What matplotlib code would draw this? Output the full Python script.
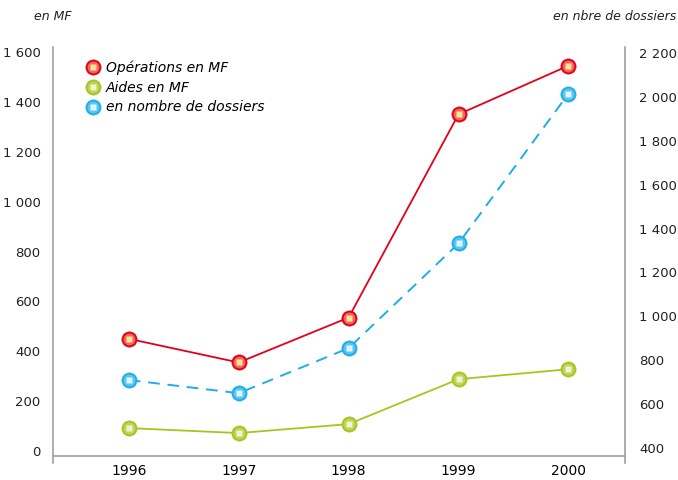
import numpy as np
import matplotlib
matplotlib.use('Agg')
import matplotlib.pyplot as plt
from matplotlib.lines import Line2D

# data
annees = ['1996', '1997', '1998', '1999', '2000']
operations_mf = [450, 355, 535, 1350, 1545]
aides_mf = [92, 72, 108, 288, 328]
nb_dossiers = [710, 650, 855, 1332, 2014]

left_ticks = [0, 200, 400, 600, 800, 1000, 1200, 1400, 1600]
right_ticks = [400, 600, 800, 1000, 1200, 1400, 1600, 1800, 2000, 2200]

# couleurs : trait, milieu, reflet
rouge = ('#e2001a', '#ef6a55', '#fbe3a0')
vert = ('#a9c41e', '#bfd45a', '#eef4cc')
bleu = ('#1eaee8', '#5cc6f1', '#def5ff')
gris = '#a0a0a0'

def fmt(v):
    return '{:,}'.format(v).replace(',', ' ')

plt.rcParams['font.family'] = ['DejaVu Sans']

fig = plt.figure(figsize=(6.78, 4.8), dpi=100)
ax = fig.add_axes([53/678, 17/480, (625-53)/678, (463-47)/480])
ax2 = ax.twinx()

x = np.arange(len(annees))

def trace(axe, vals, couleurs, tirets=False):
    c, m, r = couleurs
    if tirets:
        axe.plot(x, vals, color=c, lw=1.4, dashes=(6, 4), zorder=3)
    else:
        axe.plot(x, vals, color=c, lw=1.3, zorder=3)
    axe.plot(x, vals, ls='none', marker='o', ms=11, mfc=c, mec=c, mew=0.4, zorder=4)
    axe.plot(x, vals, ls='none', marker='o', ms=8.5, mfc=m, mec='none', zorder=5)
    axe.plot(x, vals, ls='none', marker='s', ms=4, mfc=r, mec='none', zorder=6)

trace(ax, operations_mf, rouge)
trace(ax, aides_mf, vert)
trace(ax2, nb_dossiers, bleu, tirets=True)

ax.set_xlim(-0.69, 4.515)
ax.set_ylim(-48, 1620)
ax2.set_ylim(332, 2227)

ax.set_xticks(x)
ax.set_xticklabels(annees, fontsize=9.5, color='#222222')
ax.set_yticks(left_ticks)
ax.set_yticklabels([fmt(v) for v in left_ticks], fontsize=9.5, color='#222222')
ax2.set_yticks(right_ticks)
ax2.set_yticklabels([fmt(v) for v in right_ticks], fontsize=9.5, color='#222222')

ax.tick_params(axis='y', length=0, pad=9)
ax.tick_params(axis='x', length=0, pad=6)
ax2.tick_params(axis='y', length=0, pad=10)

for a in (ax, ax2):
    a.spines['top'].set_visible(False)
    a.spines['bottom'].set_position(('axes', 7/416))
    for s in a.spines.values():
        s.set_color(gris)
        s.set_linewidth(1.2)
ax2.spines['bottom'].set_visible(False)
ax2.spines['left'].set_visible(False)
ax.spines['right'].set_visible(False)

# legende
handles = []
for c, m, r in (rouge, vert, bleu):
    handles.append((Line2D([], [], ls='none', marker='o', ms=11, mfc=c, mec=c, mew=0.4),
                    Line2D([], [], ls='none', marker='o', ms=8.5, mfc=m, mec='none'),
                    Line2D([], [], ls='none', marker='s', ms=4, mfc=r, mec='none')))
labels = ['Opérations en MF', 'Aides en MF', 'en nombre de dossiers']
leg = ax.legend(handles, labels, loc='upper left', bbox_to_anchor=(0.038, 0.998),
                frameon=False, handlelength=0.8, handletextpad=0.55, labelspacing=0.42,
                prop={'style': 'italic', 'size': 10})

fig.text(34/678, 1 - 17/480, 'en MF', fontsize=9, style='italic', color='#222222', va='center')
fig.text(676/678, 1 - 17/480, 'en nbre de dossiers', fontsize=9, style='italic', color='#222222',
         va='center', ha='right')

fig.savefig('out.png', dpi=100)
